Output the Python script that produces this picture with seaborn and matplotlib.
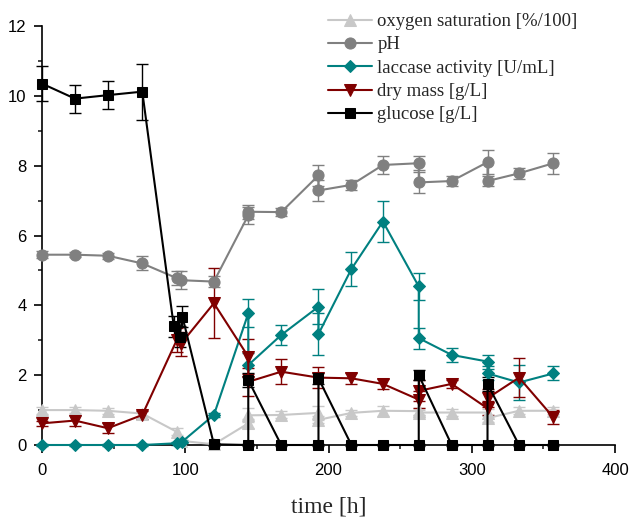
import matplotlib
matplotlib.use("Agg")
import matplotlib.pyplot as plt
import seaborn as sns
import numpy as np
from matplotlib.ticker import MultipleLocator

# ---- data ----
t_o2 = [0, 23, 46, 70, 94, 97, 120, 144, 144, 167, 193, 193, 216, 238, 263, 263, 286, 311, 311, 333, 357]
o2 = [1.0, 1.0, 0.98, 0.9, 0.38, 0.12, 0.02, 0.62, 0.85, 0.86, 0.92, 0.72, 0.92, 0.98, 0.97, 0.93, 0.93, 0.93, 0.77, 0.98, 0.98]
o2_err = [0.1, 0.08, 0.08, 0.1, 0.1, 0.08, 0.03, 0.12, 0.2, 0.1, 0.2, 0.1, 0.08, 0.15, 0.1, 0.08, 0.1, 0.1, 0.1, 0.1, 0.1]

t_ph = [0, 23, 46, 70, 94, 97, 120, 144, 144, 167, 193, 193, 216, 238, 263, 263, 286, 311, 311, 333, 357]
ph = [5.45, 5.45, 5.42, 5.2, 4.78, 4.72, 4.68, 6.58, 6.68, 6.67, 7.72, 7.29, 7.45, 8.02, 8.07, 7.52, 7.56, 8.1, 7.56, 7.78, 8.07]
ph_err = [0.1, 0.08, 0.08, 0.2, 0.2, 0.25, 0.15, 0.25, 0.2, 0.12, 0.3, 0.3, 0.15, 0.25, 0.2, 0.3, 0.15, 0.35, 0.15, 0.15, 0.3]

t_lac = [0, 23, 46, 70, 94, 98, 120, 144, 144, 167, 193, 193, 216, 238, 263, 263, 286, 311, 311, 333, 357]
lac = [0.0, 0.0, 0.0, 0.0, 0.05, 0.1, 0.86, 3.77, 2.29, 3.15, 3.96, 3.18, 5.04, 6.4, 4.54, 3.06, 2.58, 2.39, 2.05, 1.79, 2.05]
lac_err = [0.02, 0.02, 0.02, 0.02, 0.05, 0.05, 0.05, 0.4, 0.35, 0.3, 0.5, 0.6, 0.5, 0.6, 0.4, 0.3, 0.2, 0.2, 0.2, 0.5, 0.2]

t_dm = [0, 23, 46, 70, 94, 97, 120, 144, 144, 167, 193, 216, 238, 263, 263, 286, 311, 311, 333, 357]
dm = [0.62, 0.70, 0.48, 0.86, 3.0, 2.9, 4.06, 2.53, 1.81, 2.1, 1.93, 1.91, 1.75, 1.3, 1.55, 1.75, 1.05, 1.34, 1.93, 0.79]
dm_err = [0.08, 0.15, 0.15, 0.12, 0.35, 0.35, 1.0, 0.5, 0.4, 0.35, 0.3, 0.15, 0.15, 0.25, 0.3, 0.12, 0.2, 0.25, 0.55, 0.2]

t_glc = [0, 23, 46, 70, 92, 96, 98, 120, 144, 144, 167, 193, 193, 216, 238, 263, 263, 286, 311, 311, 333, 357]
glc = [10.35, 9.92, 10.02, 10.12, 3.4, 3.1, 3.68, 0.02, 0.0, 1.86, 0.0, 0.0, 1.91, 0.0, 0.0, 0.0, 2.0, 0.0, 0.0, 1.75, 0.0, 0.0]
glc_err = [0.5, 0.4, 0.4, 0.8, 0.3, 0.3, 0.3, 0.05, 0.02, 0.2, 0.02, 0.02, 0.15, 0.02, 0.02, 0.02, 0.15, 0.02, 0.02, 0.2, 0.02, 0.02]

labels = ["oxygen saturation [%/100]", "pH", "laccase activity [U/mL]", "dry mass [g/L]", "glucose [g/L]"]

# ---- style ----
sns.set_style("ticks")
plt.rcParams['font.family'] = ['Liberation Sans', 'DejaVu Sans']

fig = plt.figure(figsize=(6.29, 5.17), dpi=100)
ax = fig.add_axes([42/629, 1-445/517, (615-42)/629, (445-26)/517])

series = [
    (t_o2, o2, o2_err, "#c8c8c8", "^", 8),
    (t_ph, ph, ph_err, "#808080", "o", 8),
    (t_lac, lac, lac_err, "#008080", "D", 6.5),
    (t_dm, dm, dm_err, "#800000", "v", 8),
    (t_glc, glc, glc_err, "#000000", "s", 6.5),
]

handles = []
for (t, y, e, c, m, ms), lab in zip(series, labels):
    ax.errorbar(t, y, yerr=e, fmt='none', ecolor=c, elinewidth=1.0, capsize=4, capthick=1.0, clip_on=False, zorder=2)
    sns.lineplot(x=t, y=y, sort=False, estimator=None, color=c, marker=m, markersize=ms,
                 markeredgecolor=c, linewidth=1.5, ax=ax, label=lab, legend=False, clip_on=False, zorder=3)
    handles.append(ax.lines[-1])

ax.set_xlim(0, 400)
ax.set_ylim(0, 12)
ax.xaxis.set_major_locator(MultipleLocator(100))
ax.xaxis.set_minor_locator(MultipleLocator(50))
ax.yaxis.set_major_locator(MultipleLocator(2))
ax.yaxis.set_minor_locator(MultipleLocator(1))
ax.tick_params(axis='both', which='major', direction='out', length=6, width=1.2, labelsize=12, colors='black')
ax.tick_params(axis='x', which='major', pad=7)
ax.tick_params(axis='y', which='major', pad=5)
ax.tick_params(axis='both', which='minor', direction='out', length=3, width=1.2)
for s in ['top', 'right']:
    ax.spines[s].set_visible(False)
for s in ['left', 'bottom']:
    ax.spines[s].set_linewidth(1.2)
    ax.spines[s].set_color('black')

ax.set_xlabel("time [h]", fontfamily='Liberation Serif', fontsize=17, labelpad=13)
ax.set_ylabel("")

fig.legend(handles=handles, labels=labels, loc='upper left', bbox_to_anchor=(328/629, 1-13/517),
           frameon=False, prop={'family': 'Liberation Serif', 'size': 13.5}, handlelength=2.35,
           handletextpad=0.28, labelspacing=0.33, borderaxespad=0, borderpad=0)

fig.savefig("out.png", dpi=100)
